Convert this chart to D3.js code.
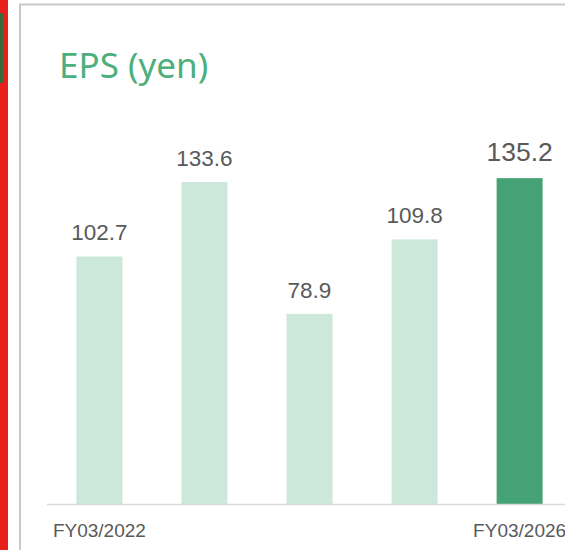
<!DOCTYPE html>
<html><head><meta charset="utf-8">
<script src="https://cdn.jsdelivr.net/npm/d3@7"></script>
<style>body{margin:0;background:#fff;}svg{display:block;}</style>
</head><body>
<svg id="c" width="565" height="550"></svg>
<script>
const categories = ["FY03/2022","FY03/2023","FY03/2024","FY03/2025","FY03/2026"];
const values = [102.7, 133.6, 78.9, 109.8, 135.2];
const tickLabels = ["FY03/2022","","","","FY03/2026"];
const highlight = [false,false,false,false,true];

const svg = d3.select("#c");
// left red stripe
svg.append("rect").attr("x",0).attr("y",0).attr("width",8).attr("height",550).attr("fill","#e8201a");
svg.append("rect").attr("x",0).attr("y",13).attr("width",3).attr("height",70).attr("fill","#3a6b3a");
// panel border
svg.append("path").attr("d","M20,551 L20,4.5 L566,4.5").attr("fill","none").attr("stroke","#c8c8c8").attr("stroke-width",2);

svg.append("text").attr("x",59).attr("y",78).text("EPS (yen)")
  .attr("font-family","'Noto Sans', 'Open Sans', sans-serif").attr("font-size",35).attr("fill","#4caf7d");

const baseY = 504;
const x = d3.scaleBand().domain(categories).range([47, 572]).paddingInner(0.5625).paddingOuter(0.28);
const y = d3.scaleLinear().domain([0, 133.6]).range([baseY, 182]);

svg.selectAll("rect.bar").data(values).join("rect").attr("class","bar")
  .attr("x",(d,i)=>x(categories[i])).attr("width",x.bandwidth())
  .attr("y",d=>y(d)).attr("height",d=>baseY-y(d))
  .attr("fill",(d,i)=>highlight[i]?"#45a274":"#cce8da");

svg.append("line").attr("x1",47).attr("x2",565).attr("y1",baseY+0.5).attr("y2",baseY+0.5)
  .attr("stroke","#d9d9d9").attr("stroke-width",1.5);

svg.selectAll("text.val").data(values).join("text").attr("class","val")
  .attr("x",(d,i)=>x(categories[i])+x.bandwidth()/2)
  .attr("y",(d,i)=>y(d)-(highlight[i]?17:16))
  .attr("text-anchor","middle")
  .attr("font-family","'Liberation Sans', Arial, sans-serif")
  .attr("font-size",(d,i)=>highlight[i]?26.5:22.5)
  .attr("fill","#595959")
  .text(d=>d.toFixed(1));

const xAxis = d3.axisBottom(x).tickSize(0).tickFormat((d,i)=>tickLabels[i]);
const g = svg.append("g").attr("transform",`translate(0,${baseY})`).call(xAxis);
g.select(".domain").remove();
g.selectAll("text").attr("font-family","'Liberation Sans', Arial, sans-serif")
  .attr("font-size",19).attr("fill","#595959").attr("dy",0).attr("y",33);
</script>
</body></html>
